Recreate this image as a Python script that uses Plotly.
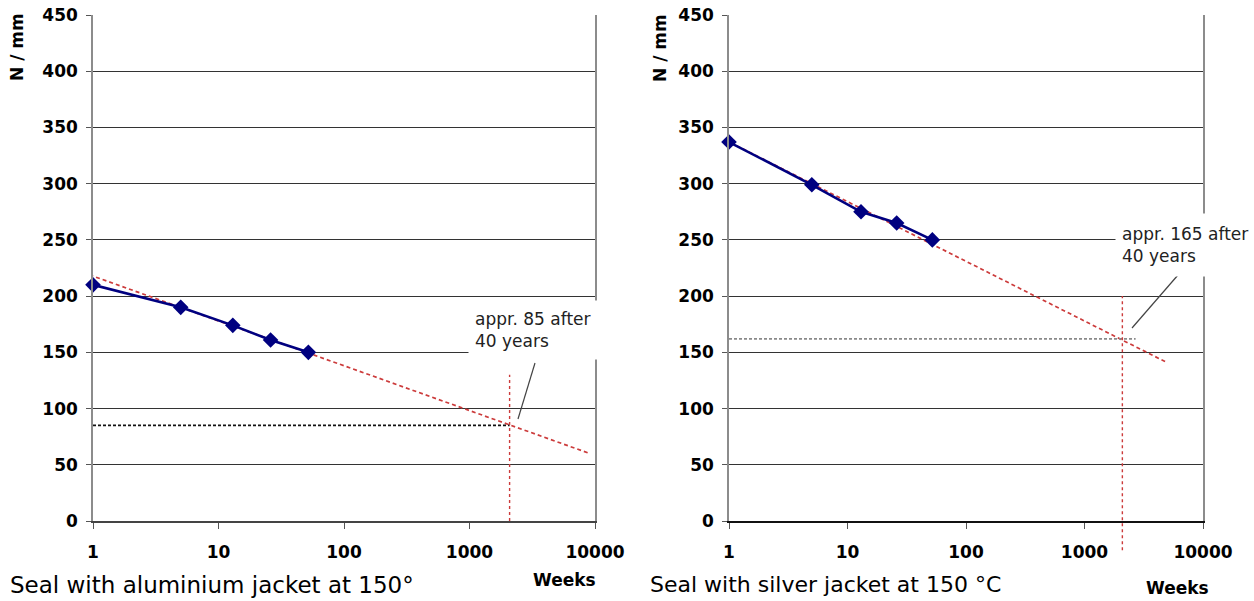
import plotly.graph_objects as go
from plotly.subplots import make_subplots

# ---------------- data ----------------
weeks = [1, 5, 13, 26, 52]
al_force = [210, 190, 174, 161, 150]          # aluminium jacket, N/mm
ag_force = [337, 299, 275, 265, 250]          # silver jacket, N/mm

al_trend_weeks = [0.83, 9100]
al_trend_force = [221, 60]
ag_trend_weeks = [0.71, 4950]
ag_trend_force = [345, 141]

weeks_40_years = 2087
al_40y_force = 85
ag_40y_force = 162
al_hline_weeks = [1, weeks_40_years]
ag_hline_weeks = [1, 2700]
al_vline_force = [0, 130]
ag_vline_force = [-26, 200]

x_tickvals = [1, 10, 100, 1000, 10000]
x_ticktext = ["1", "10", "100", "1000", "10000"]
y_tickvals = [0, 50, 100, 150, 200, 250, 300, 350, 400, 450]

al_label = "appr. 85 after<br>40 years"
ag_label = "appr. 165 after<br>40 years"
al_caption = "Seal with aluminium jacket at 150°"
ag_caption = "Seal with silver jacket at 150 °C"
y_title = "N / mm"
x_title = "Weeks"

# ---------------- styles ----------------
W, H = 1254, 601
NAVY = "#000080"
RED = "#CC3B3B"
BOLD = "DejaVu Sans"

fig = make_subplots(rows=1, cols=2)

# Left chart
fig.add_trace(go.Scatter(x=al_trend_weeks, y=al_trend_force, mode="lines",
                         line=dict(color=RED, width=1.7, dash="4px,3px")), 1, 1)
fig.add_trace(go.Scatter(x=al_hline_weeks, y=[al_40y_force] * 2, mode="lines",
                         line=dict(color="#111111", width=1.6, dash="3px,2px")), 1, 1)
fig.add_trace(go.Scatter(x=[weeks_40_years] * 2, y=al_vline_force, mode="lines",
                         line=dict(color=RED, width=1.4, dash="3px,3px")), 1, 1)
fig.add_trace(go.Scatter(x=weeks, y=al_force, mode="lines+markers", cliponaxis=False,
                         line=dict(color=NAVY, width=2.6),
                         marker=dict(symbol="diamond", size=12, color=NAVY)), 1, 1)

# Right chart
fig.add_trace(go.Scatter(x=ag_trend_weeks, y=ag_trend_force, mode="lines",
                         line=dict(color=RED, width=1.7, dash="4px,3px")), 1, 2)
fig.add_trace(go.Scatter(x=ag_hline_weeks, y=[ag_40y_force] * 2, mode="lines",
                         line=dict(color="#8a8a8a", width=1.6, dash="3px,2px")), 1, 2)
fig.add_trace(go.Scatter(x=weeks, y=ag_force, mode="lines+markers", cliponaxis=False,
                         line=dict(color=NAVY, width=2.6),
                         marker=dict(symbol="diamond", size=12, color=NAVY)), 1, 2)

# vertical 40-year line on right chart extends below the axis
fig.add_shape(type="line", xref="x2", yref="paper",
              x0=weeks_40_years, x1=weeks_40_years,
              y0=ag_vline_force[0] / 450, y1=ag_vline_force[1] / 450,
              line=dict(color=RED, width=1.4, dash="3px,3px"), layer="above")

xcommon = dict(type="log", range=[0, 4], tickvals=x_tickvals, ticktext=x_ticktext,
               showgrid=False, ticks="outside", ticklen=6, tickcolor="#555555",
               tickfont=dict(family=BOLD, size=17, color="#000000", weight="bold"),
               ticklabelstandoff=9, zeroline=False, automargin=False)
ycommon = dict(range=[0, 450], tickvals=y_tickvals, showgrid=True,
               gridcolor="#333333", gridwidth=1.2, ticks="outside", ticklen=5,
               tickcolor="#555555", showline=True, linecolor="#8c8c8c", linewidth=1.5,
               mirror=True, zeroline=False, automargin=False,
               tickfont=dict(family=BOLD, size=17, color="#000000", weight="bold"),
               ticklabelstandoff=5)

fig.update_xaxes(**xcommon)
fig.update_yaxes(**ycommon)
fig.update_layout(
    xaxis=dict(domain=[93 / W, 595 / W], showline=True, linecolor="#444444", linewidth=1.6),
    xaxis2=dict(domain=[729 / W, 1203 / W], showline=True, linecolor="#111111", linewidth=2),
)

PH = 506  # plot height in px (521 - 15)


def py(px):
    return (521 - px) / PH


ann = []
# value-callout boxes
ann.append(dict(text=al_label, xref="paper", yref="paper", x=468 / W, y=py(300),
                xanchor="left", yanchor="top", showarrow=False, align="left",
                width=130, height=46, borderpad=6, bgcolor="#ffffff",
                font=dict(family="DejaVu Sans", size=17, color="#222222")))
ann.append(dict(text=ag_label, xref="paper", yref="paper", x=1115 / W, y=py(213),
                xanchor="left", yanchor="top", showarrow=False, align="left",
                width=129, height=50, borderpad=6, bgcolor="#ffffff",
                font=dict(family="DejaVu Sans", size=17, color="#222222")))
# axis titles
for xp, yp in [(17, 47), (660, 48)]:
    ann.append(dict(text=y_title, xref="paper", yref="paper", x=xp / W, y=py(yp),
                    xanchor="center", yanchor="middle", showarrow=False, textangle=-90,
                    font=dict(family=BOLD, size=17, color="#000000", weight="bold")))
for xp, yp in [(564, 580), (1177, 588)]:
    ann.append(dict(text=x_title, xref="paper", yref="paper", x=xp / W, y=py(yp),
                    xanchor="center", yanchor="middle", showarrow=False,
                    font=dict(family=BOLD, size=17, color="#000000", weight="bold")))
# captions
ann.append(dict(text=al_caption, xref="paper", yref="paper", x=8 / W, y=py(585),
                xanchor="left", yanchor="middle", showarrow=False,
                font=dict(family="DejaVu Sans", size=23, color="#000000")))
ann.append(dict(text=ag_caption, xref="paper", yref="paper", x=648 / W, y=py(584),
                xanchor="left", yanchor="middle", showarrow=False,
                font=dict(family="DejaVu Sans", size=22, color="#000000")))

# pointer lines from callouts
fig.add_shape(type="line", xref="paper", yref="paper", x0=535 / W, y0=py(363),
              x1=518 / W, y1=py(419), line=dict(color="#444444", width=1.2))
fig.add_shape(type="line", xref="paper", yref="paper", x0=1178 / W, y0=py(275),
              x1=1132 / W, y1=py(328), line=dict(color="#444444", width=1.2))

fig.update_layout(
    width=W, height=H, showlegend=False,
    margin=dict(l=0, r=0, t=15, b=80),
    paper_bgcolor="#ffffff", plot_bgcolor="#ffffff",
    annotations=ann,
    font=dict(family="DejaVu Sans"),
)

fig.write_html("out.html")
